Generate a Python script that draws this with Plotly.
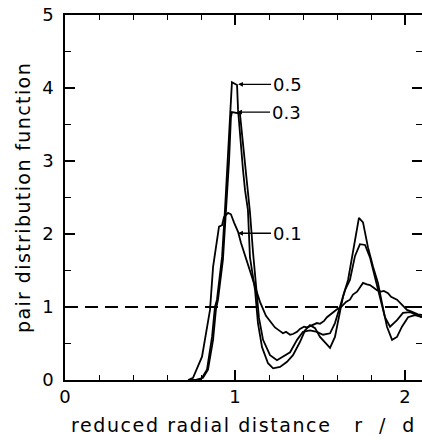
import plotly.graph_objects as go

# pair distribution function g(r) at three packing fractions
r_05 = [0.735, 0.794, 0.806, 0.835, 0.865, 0.882, 0.894, 0.924, 0.941, 0.965, 0.982, 1.012,
        1.018, 1.047, 1.059, 1.076, 1.088, 1.118, 1.135, 1.159, 1.165, 1.194, 1.224, 1.265,
        1.306, 1.341, 1.382, 1.412, 1.441, 1.471, 1.500, 1.541, 1.559, 1.588, 1.618, 1.635,
        1.665, 1.676, 1.706, 1.729, 1.753, 1.782, 1.812, 1.841, 1.865, 1.894, 1.924, 1.953,
        1.982, 2.018, 2.059, 2.100]
g_05 = [0.00, 0.00, 0.03, 0.14, 0.59, 1.00, 1.10, 1.69, 2.33, 3.30, 4.08, 4.04,
        3.70, 2.88, 2.60, 2.33, 1.68, 1.23, 0.78, 0.45, 0.41, 0.23, 0.16, 0.18,
        0.25, 0.34, 0.52, 0.68, 0.75, 0.71, 0.59, 0.48, 0.44, 0.59, 0.92, 1.14,
        1.37, 1.52, 1.90, 2.22, 2.16, 1.82, 1.55, 1.33, 1.05, 0.73, 0.55, 0.59,
        0.73, 0.86, 0.89, 0.86]

r_03 = [0.765, 0.812, 0.841, 0.871, 0.888, 0.900, 0.929, 0.947, 0.965, 0.976, 0.982, 1.029,
        1.059, 1.088, 1.106, 1.124, 1.141, 1.165, 1.206, 1.247, 1.282, 1.324, 1.365, 1.400,
        1.441, 1.482, 1.518, 1.559, 1.588, 1.618, 1.647, 1.676, 1.706, 1.735, 1.765, 1.794,
        1.824, 1.853, 1.882, 1.912, 1.953, 1.988, 2.029, 2.071, 2.100]
g_03 = [0.00, 0.03, 0.14, 0.55, 0.97, 1.10, 1.65, 2.30, 3.00, 3.60, 3.67, 3.65,
        3.00, 2.30, 1.75, 1.25, 0.85, 0.55, 0.34, 0.27, 0.32, 0.38, 0.55, 0.66,
        0.68, 0.66, 0.62, 0.64, 0.78, 1.00, 1.23, 1.37, 1.70, 1.86, 1.85, 1.68,
        1.41, 1.14, 0.86, 0.73, 0.82, 0.92, 0.93, 0.89, 0.86]

r_01 = [0.724, 0.753, 0.806, 0.853, 0.871, 0.906, 0.924, 0.935, 0.959, 0.976, 0.994, 1.018,
        1.035, 1.071, 1.106, 1.147, 1.182, 1.218, 1.235, 1.259, 1.282, 1.300, 1.324, 1.341,
        1.365, 1.382, 1.406, 1.424, 1.459, 1.482, 1.500, 1.524, 1.541, 1.571, 1.600, 1.624,
        1.653, 1.676, 1.694, 1.718, 1.735, 1.753, 1.776, 1.794, 1.818, 1.835, 1.859, 1.876,
        1.900, 1.918, 1.953, 1.976, 2.012, 2.035, 2.053, 2.076, 2.100]
g_01 = [0.00, 0.03, 0.32, 0.96, 1.55, 2.10, 2.12, 2.23, 2.29, 2.27, 2.16, 2.03,
        1.88, 1.63, 1.37, 1.07, 0.88, 0.78, 0.72, 0.68, 0.64, 0.66, 0.62, 0.63,
        0.66, 0.70, 0.73, 0.72, 0.75, 0.78, 0.77, 0.81, 0.86, 0.92, 0.97, 1.00,
        1.07, 1.10, 1.17, 1.21, 1.27, 1.33, 1.31, 1.30, 1.26, 1.23, 1.21, 1.22,
        1.19, 1.14, 1.10, 1.05, 0.96, 0.94, 0.92, 0.90, 0.89]

labels = ["0.5", "0.3", "0.1"]
label_r = [1.018, 1.012, 1.018]
label_g = [4.05, 3.67, 2.01]

# ideal-gas level g = 1
ref_r = [0.0, 2.1]
ref_g = [1.0, 1.0]

x_ticks = [0, 1, 2]
y_ticks = [0, 1, 2, 3, 4, 5]

FONT = "DejaVu Sans"
INK = "black"
LW = 1.8
NB = "\u00a0"

fig = go.Figure()
for r, g in [(r_05, g_05), (r_03, g_03), (r_01, g_01)]:
    fig.add_trace(go.Scatter(x=r, y=g, mode="lines",
                             line=dict(color=INK, width=LW), showlegend=False,
                             hoverinfo="skip"))

fig.add_trace(go.Scatter(x=ref_r, y=ref_g, mode="lines", yaxis="y2",
                         line=dict(color=INK, width=LW, dash="13px,7px"),
                         showlegend=False, hoverinfo="skip"))

for txt, x, y in zip(labels, label_r, label_g):
    fig.add_annotation(x=x, y=y, text=txt, showarrow=True, ax=33, ay=0,
                       xanchor="left", yanchor="middle", arrowhead=2,
                       arrowsize=0.7, arrowwidth=1.4, arrowcolor=INK,
                       standoff=0, startstandoff=0,
                       font=dict(family=FONT, size=18, color=INK))

tick_common = dict(ticks="inside", tickwidth=1.6, tickcolor=INK,
                   showgrid=False, zeroline=False,
                   tickfont=dict(family=FONT, size=18, color=INK))

x_title = "reduced radial distance" + NB * 3 + "r" + NB * 2 + "/" + NB * 2 + "d"

fig.update_layout(
    xaxis=dict(range=[0, 2.1], tickvals=x_ticks, ticklen=10,
               showline=True, linecolor=INK, linewidth=1.6, mirror="ticks",
               minor=dict(ticks="inside", ticklen=5, tickwidth=1.4,
                          tickcolor=INK, dtick=0.2, showgrid=False),
               title=dict(text=x_title,
                          font=dict(family=FONT, size=19, color=INK), standoff=12),
               **tick_common),
    yaxis=dict(range=[0, 5], tickvals=y_ticks, ticklen=10, ticklabelstandoff=6,
               showline=True, linecolor=INK, linewidth=1.6, mirror=False,
               minor=dict(ticks="inside", ticklen=6, tickwidth=1.4,
                          tickcolor=INK, dtick=0.5, showgrid=False),
               title=dict(text="pair distribution function",
                          font=dict(family=FONT, size=19, color=INK), standoff=6),
               **tick_common),
    # right-hand tick marks without an axis line
    yaxis2=dict(range=[0, 5], overlaying="y", side="right", tickvals=y_ticks,
                ticklen=10, showline=False, showticklabels=False,
                minor=dict(ticks="inside", ticklen=6, tickwidth=1.4,
                           tickcolor=INK, dtick=0.5, showgrid=False),
                **tick_common),
    width=422, height=440,
    margin=dict(l=65, r=0, t=15, b=60),
    paper_bgcolor="white", plot_bgcolor="white",
)

# widen the letter spacing of the axis titles
spacing_js = """
var gd = document.getElementById('{plot_id}');
gd.querySelectorAll('.g-xtitle text').forEach(function (t) {
    t.style.letterSpacing = '1.6px';
});
gd.querySelectorAll('.g-ytitle text').forEach(function (t) {
    t.style.letterSpacing = '1.4px';
});
"""

fig.write_html("out.html", post_script=spacing_js)
